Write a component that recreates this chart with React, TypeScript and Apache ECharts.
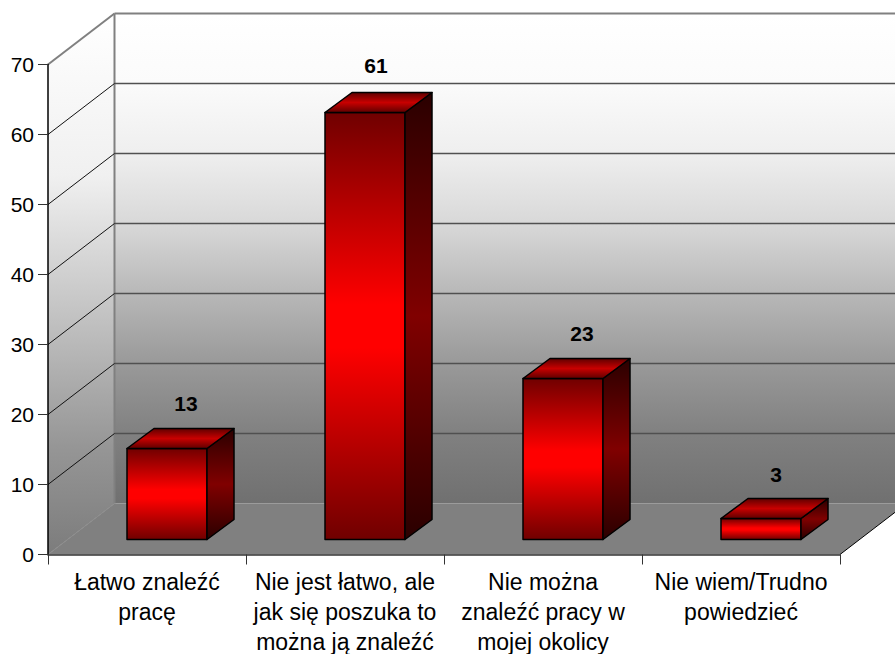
import React, { useEffect, useRef } from "react";
import * as echarts from "echarts";

const categories = [
  "Łatwo znaleźć\npracę",
  "Nie jest łatwo, ale\njak się poszuka to\nmożna ją znaleźć",
  "Nie można\nznaleźć pracy w\nmojej okolicy",
  "Nie wiem/Trudno\npowiedzieć",
];
const values = [13, 61, 23, 3];
const yTicks = [0, 10, 20, 30, 40, 50, 60, 70];

const FONT = "'Liberation Sans', Arial, sans-serif";
const DEPTH = { x: 66.5, y: -51 };
const BAR_OFFSET = { x: 20, y: -15 };
const BAR_DEPTH = { x: 27, y: -20 };
const BAR_WIDTH_RATIO = 80 / 198;
// Value-label placement relative to the bar's top-back edge.
const LABEL_SHIFT_X = [19, 11, 19, 15];
const LABEL_SHIFT_Y = [-25, -27, -25, -24];

const grad = (stops: [number, string][]) =>
  new echarts.graphic.LinearGradient(0, 0, 0, 1, stops.map(([offset, color]) => ({ offset, color })));

const pts = (arr: number[][]) => ({ points: arr });

const wallStops: [number, string][] = [
  [0, "#ffffff"],
  [0.14, "#fbfbfb"],
  [0.29, "#eeeeee"],
  [0.43, "#d8d8d8"],
  [0.57, "#b8b8b8"],
  [0.71, "#9a9a9a"],
  [0.86, "#808080"],
  [1, "#707070"],
];

function renderWalls(params: any) {
  const c = params.coordSys;
  const l = c.x, r = c.x + c.width, t = c.y, b = c.y + c.height;
  const dx = DEPTH.x, dy = DEPTH.y;
  return {
    type: "group",
    children: [
      {
        type: "polygon",
        shape: pts([[l + dx, t + dy], [r + dx, t + dy], [r + dx, b + dy], [l + dx, b + dy]]),
        style: { fill: grad(wallStops) },
      },
      {
        type: "polygon",
        shape: pts([[l, t], [l + dx, t + dy], [l + dx, b + dy], [l, b]]),
        style: { fill: grad([[0, "#ffffff"], [0.3, "#f0f0f0"], [0.55, "#c4c4c4"], [0.8, "#969696"], [1, "#7c7c7c"]]) },
      },
      {
        type: "polygon",
        shape: pts([[l, b], [l + dx, b + dy], [r + dx, b + dy], [r, b]]),
        style: { fill: "#808080" },
      },
      {
        type: "polyline",
        shape: pts([[r, b], [r + dx, b + dy]]),
        style: { stroke: "#000000", lineWidth: 1, fill: "none" },
      },
      {
        type: "polyline",
        shape: pts([[l + dx, t + dy], [l + dx, b + dy]]),
        style: { stroke: "#808080", lineWidth: 2, fill: "none" },
      },
    ],
  };
}

function renderGridline(params: any, api: any) {
  const c = params.coordSys;
  const v = api.value(1);
  const y = api.coord([0, v])[1];
  const l = c.x, r = c.x + c.width;
  const dx = DEPTH.x, dy = DEPTH.y;
  const isTop = v === yTicks[yTicks.length - 1];
  if (v === 0) {
    return {
      type: "polyline",
      shape: pts([[l, y], [l + dx, y + dy]]),
      style: { stroke: "#8c8c8c", lineWidth: 1, fill: "none" },
    };
  }
  return {
    type: "group",
    children: [
      {
        type: "polyline",
        shape: pts([[l + dx, y + dy], [r + dx, y + dy]]),
        style: { stroke: isTop ? "#808080" : "#505050", lineWidth: isTop ? 2 : 1.5, fill: "none" },
      },
      {
        type: "polyline",
        shape: pts([[l, y], [l + dx, y + dy]]),
        style: { stroke: isTop ? "#808080" : "#111111", lineWidth: isTop ? 2 : 1, fill: "none" },
      },
    ],
  };
}

function renderBar(params: any, api: any) {
  const idx = api.value(0);
  const base = api.coord([idx, 0]);
  const top = api.coord([idx, api.value(1)]);
  const w = api.size([1, 0])[0] * BAR_WIDTH_RATIO;
  const x0 = base[0] + BAR_OFFSET.x - w / 2;
  const x1 = x0 + w;
  const yb = base[1] + BAR_OFFSET.y;
  const yt = top[1] + BAR_OFFSET.y;
  const dx = BAR_DEPTH.x, dy = BAR_DEPTH.y;
  const stroke = { stroke: "#000000", lineWidth: 1.5, lineJoin: "round" };
  return {
    type: "group",
    children: [
      {
        type: "polygon",
        shape: pts([[x0, yt], [x1, yt], [x1, yb], [x0, yb]]),
        style: { fill: grad([[0, "#700000"], [0.45, "#ff0000"], [0.55, "#ff0000"], [1, "#700000"]]), ...stroke },
      },
      {
        type: "polygon",
        shape: pts([[x1, yt], [x1 + dx, yt + dy], [x1 + dx, yb + dy], [x1, yb]]),
        style: { fill: grad([[0, "#2a0000"], [0.5, "#800000"], [1, "#2a0000"]]), ...stroke },
      },
      {
        type: "polygon",
        shape: pts([[x0, yt], [x0 + dx, yt + dy], [x1 + dx, yt + dy], [x1, yt]]),
        style: { fill: grad([[0, "#600000"], [0.5, "#c80000"], [1, "#600000"]]), ...stroke },
      },
      {
        type: "text",
        style: {
          x: (x0 + x1) / 2 + LABEL_SHIFT_X[idx],
          y: yt + dy + LABEL_SHIFT_Y[idx],
          text: String(api.value(1)),
          fill: "#000000",
          font: `bold 21px ${FONT}`,
          textAlign: "center",
          textVerticalAlign: "middle",
        },
      },
    ],
  };
}

export default function App() {
  const ref = useRef<HTMLDivElement>(null);
  useEffect(() => {
    const chart = echarts.init(ref.current!, undefined, { renderer: "svg" });
    chart.setOption({
      animation: false,
      backgroundColor: "#ffffff",
      grid: { left: 48, top: 64.5, width: 792, height: 490, containLabel: false, outerBoundsMode: "none" },
      xAxis: {
        type: "category",
        data: categories,
        z: 10,
        axisLine: { lineStyle: { color: "#333333", width: 1.5 } },
        axisTick: { show: true, length: 10, lineStyle: { color: "#333333" } },
        axisLabel: {
          interval: 0,
          color: "#000000",
          fontFamily: FONT,
          fontSize: 23,
          lineHeight: 30,
          margin: 12,
          hideOverlap: false,
          align: "center",
          verticalAlign: "top",
        },
      },
      yAxis: {
        type: "value",
        min: 0,
        max: 70,
        interval: 10,
        z: 10,
        splitLine: { show: false },
        axisLine: { show: true, lineStyle: { color: "#000000", width: 1.5 } },
        axisTick: { show: true, length: 10, lineStyle: { color: "#333333" } },
        axisLabel: { color: "#000000", fontFamily: FONT, fontSize: 21, margin: 14 },
      },
      series: [
        { type: "custom", renderItem: renderWalls, data: [[0, 0]], encode: { x: 0, y: 1 }, silent: true, z: 1 },
        {
          type: "custom",
          renderItem: renderGridline,
          data: yTicks.map((t) => [0, t]),
          encode: { x: 0, y: 1 },
          silent: true,
          z: 2,
        },
        {
          type: "custom",
          renderItem: renderBar,
          data: values.map((v, i) => [i, v]),
          encode: { x: 0, y: 1 },
          silent: true,
          z: 3,
        },
      ],
    });
    return () => chart.dispose();
  }, []);
  return <div ref={ref} style={{ position: "fixed", left: 0, top: 0, width: 895, height: 654 }} />;
}
